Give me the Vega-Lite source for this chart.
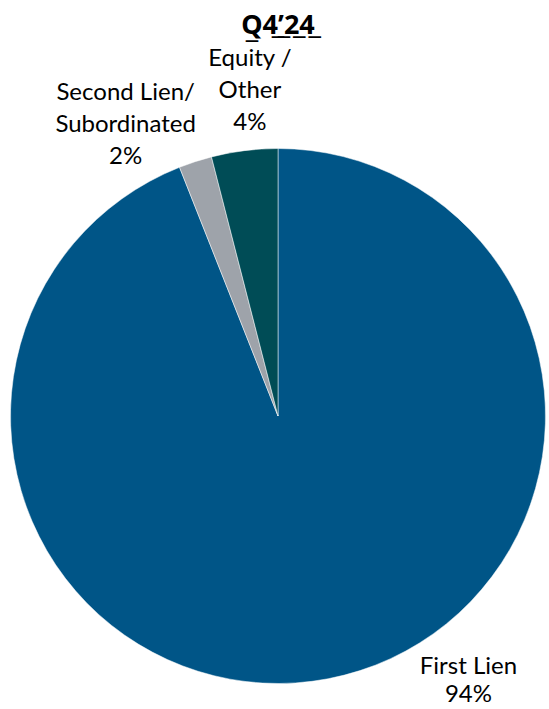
{
  "$schema": "https://vega.github.io/schema/vega-lite/v6.json",
  "width": 556,
  "height": 586,
  "autosize": {"type": "none"},
  "padding": {"top": 123, "left": 0, "right": 0, "bottom": 0},
  "background": "white",
  "title": {
    "text": "Q̲4̲’̲2̲4̲",
    "frame": "group",
    "font": "Noto Sans",
    "fontSize": 27,
    "fontWeight": "bold",
    "color": "#000000",
    "anchor": "middle",
    "baseline": "alphabetic",
    "offset": -53
  },
  "config": {"view": {"stroke": null}},
  "data": {
    "values": [
      {"seq": 1, "segment": "First Lien", "share": 94, "label": "First Lien\n94%"},
      {"seq": 2, "segment": "Second Lien/Subordinated", "share": 2, "label": "Second Lien/\nSubordinated\n2%"},
      {"seq": 3, "segment": "Equity / Other", "share": 4, "label": "Equity /\nOther\n4%"}
    ]
  },
  "encoding": {
    "theta": {"field": "share", "type": "quantitative", "stack": true},
    "order": {"field": "seq", "type": "quantitative", "sort": "ascending"}
  },
  "layer": [
    {
      "mark": {"type": "arc", "radius": 267.5, "stroke": "#ffffff", "strokeWidth": 0.5},
      "encoding": {
        "color": {
          "field": "segment",
          "type": "nominal",
          "scale": {
            "domain": ["First Lien", "Second Lien/Subordinated", "Equity / Other"],
            "range": ["#005587", "#9ea3aa", "#004c56"]
          },
          "legend": null
        }
      }
    },
    {
      "mark": {"type": "text", "radius": 328, "dx": 129, "dy": -71, "font": "Lato", "fontSize": 24, "lineBreak": "\n", "lineHeight": 28, "align": "center", "baseline": "middle", "color": "#000000"},
      "encoding": {
        "text": {"condition": {"test": "datum.seq === 1", "field": "label"}, "value": ""}
      }
    },
    {
      "mark": {"type": "text", "radius": 328, "dx": -51, "dy": -11, "font": "Lato", "fontSize": 24, "lineBreak": "\n", "lineHeight": 32, "align": "center", "baseline": "middle", "color": "#000000"},
      "encoding": {
        "text": {"condition": {"test": "datum.seq === 2", "field": "label"}, "value": ""}
      }
    },
    {
      "mark": {"type": "text", "radius": 328, "dx": 13, "dy": -32, "font": "Lato", "fontSize": 24, "lineBreak": "\n", "lineHeight": 32, "align": "center", "baseline": "middle", "color": "#000000"},
      "encoding": {
        "text": {"condition": {"test": "datum.seq === 3", "field": "label"}, "value": ""}
      }
    }
  ]
}
